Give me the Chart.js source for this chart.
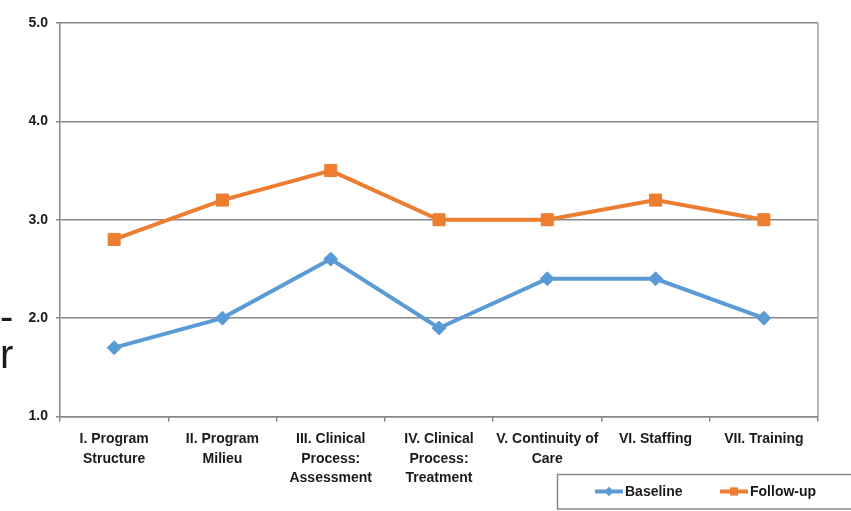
<!DOCTYPE html>
<html>
<head>
<meta charset="utf-8">
<script src="https://cdn.jsdelivr.net/npm/chart.js@4.4.1/dist/chart.umd.min.js"></script>
<style>
  html, body { margin: 0; padding: 0; background: #ffffff; }
  #wrap { position: relative; width: 851px; height: 511px; overflow: hidden; }
  #chart { position: absolute; left: 0; top: 0; }
  .side { position: absolute; left: 0; font-family: "Liberation Sans", Arial, sans-serif;
          font-size: 40px; color: #1a1a1a; line-height: 1; white-space: nowrap; }
</style>
</head>
<body>
<div id="wrap">
  <canvas id="chart" width="851" height="511"></canvas>
  <div class="side" style="top:296px;">-</div>
  <div class="side" style="top:334px;">r</div>
</div>
<script>
// Domains of the program fidelity review
const categories = [
  ["I. Program", "Structure"],
  ["II. Program", "Milieu"],
  ["III. Clinical", "Process:", "Assessment"],
  ["IV. Clinical", "Process:", "Treatment"],
  ["V. Continuity of", "Care"],
  ["VI. Staffing"],
  ["VII. Training"]
];

// Mean domain scores
const baseline = [1.7, 2.0, 2.6, 1.9, 2.4, 2.4, 2.0];
const followUp = [2.8, 3.2, 3.5, 3.0, 3.0, 3.2, 3.0];

// Value axis tick labels
const yTicks = [1.0, 2.0, 3.0, 4.0, 5.0];

const FONT = "'Liberation Sans', Arial, sans-serif";
const TEXT = "#1a1a1a";
const GRID = "#878787";

// Right-hand frame line of the plot area
const frameRight = {
  id: "frameRight",
  beforeDatasetsDraw(chart) {
    const { ctx, chartArea: a } = chart;
    ctx.save();
    ctx.strokeStyle = "#a3a3a3";
    ctx.lineWidth = 1.5;
    ctx.beginPath();
    ctx.moveTo(a.right, a.top);
    ctx.lineTo(a.right, a.bottom);
    ctx.stroke();
    ctx.restore();
  }
};

// Boxed legend below the category labels
const boxLegend = {
  id: "boxLegend",
  afterDraw(chart) {
    const { ctx } = chart;
    ctx.save();
    ctx.strokeStyle = GRID;
    ctx.lineWidth = 1.5;
    ctx.strokeRect(557.5, 474.5, 320, 34.5);

    const cy = 491.5;
    const items = [
      { x: 595, ds: chart.data.datasets[0] },
      { x: 720, ds: chart.data.datasets[1] }
    ];
    ctx.font = "bold 14px " + FONT;
    ctx.textBaseline = "middle";
    items.forEach(({ x, ds }) => {
      ctx.strokeStyle = ds.borderColor;
      ctx.lineWidth = 4;
      ctx.beginPath();
      ctx.moveTo(x, cy);
      ctx.lineTo(x + 28, cy);
      ctx.stroke();
      ctx.fillStyle = ds.borderColor;
      Chart.helpers.drawPoint(ctx, {
        pointStyle: ds.pointStyle, radius: ds.pointStyle === "rect" ? 5.5 : 4.5,
        rotation: 0, borderWidth: 0
      }, x + 14, cy);
      ctx.fill();
      ctx.fillStyle = TEXT;
      ctx.fillText(ds.label, x + 30, cy + 1);
    });
    ctx.restore();
  }
};

new Chart(document.getElementById("chart"), {
  type: "line",
  data: {
    labels: categories,
    datasets: [
      {
        label: "Baseline",
        data: baseline,
        borderColor: "#5b9bd5",
        backgroundColor: "#5b9bd5",
        borderWidth: 4,
        pointStyle: "rectRot",
        pointRadius: 7,
        pointBorderWidth: 1,
        tension: 0
      },
      {
        label: "Follow-up",
        data: followUp,
        borderColor: "#ed7d31",
        backgroundColor: "#ed7d31",
        borderWidth: 4,
        pointStyle: "rect",
        pointRadius: 8.5,
        pointBorderWidth: 1,
        tension: 0
      }
    ]
  },
  options: {
    responsive: false,
    animation: false,
    devicePixelRatio: 1,
    layout: { padding: { top: 23, right: 33, left: 0, bottom: 0 } },
    plugins: { legend: { display: false }, tooltip: { enabled: false } },
    scales: {
      x: {
        offset: true,
        grid: {
          offset: true, drawOnChartArea: false, drawTicks: true,
          tickLength: 5, color: GRID, lineWidth: 1.5
        },
        border: { color: GRID, width: 1.5 },
        ticks: {
          autoSkip: false, maxRotation: 0, minRotation: 0, padding: 8,
          color: TEXT, font: { family: FONT, size: 14, weight: "bold", lineHeight: 1.4 }
        },
        afterFit(scale) { scale.height = 94.5; }
      },
      y: {
        min: yTicks[0],
        max: yTicks[yTicks.length - 1],
        afterBuildTicks(scale) { scale.ticks = yTicks.map(v => ({ value: v })); },
        grid: { color: GRID, lineWidth: 1.5, tickLength: 4 },
        border: { color: GRID, width: 1.5 },
        ticks: {
          padding: 8, color: TEXT,
          font: { family: FONT, size: 14, weight: "bold" },
          callback: v => Number(v).toFixed(1)
        },
        afterFit(scale) { scale.width = 60; }
      }
    }
  },
  plugins: [frameRight, boxLegend]
});
</script>
</body>
</html>
